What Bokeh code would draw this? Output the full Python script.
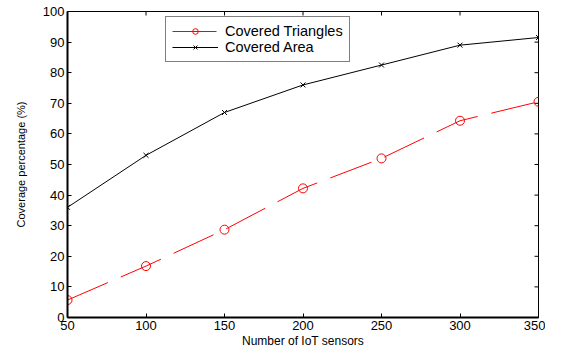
from bokeh.plotting import figure
from bokeh.models import Range1d, Legend, LegendItem, FixedTicker
from bokeh.embed import file_html
from bokeh.resources import INLINE

sensors = [50, 100, 150, 200, 250, 300, 350]
covered_triangles = [5.7, 16.8, 28.7, 42.2, 52.0, 64.3, 70.5]
covered_area = [36.0, 53.0, 67.0, 76.0, 82.5, 89.0, 91.5]
x_ticks = [50, 100, 150, 200, 250, 300, 350]
y_ticks = [0, 10, 20, 30, 40, 50, 60, 70, 80, 90, 100]

FONT = "Liberation Sans"
X_MIN, X_MAX = 50, 350
Y_MIN, Y_MAX = 0, 100

p = figure(width=545, height=350, output_backend="svg", toolbar_location=None,
           x_range=Range1d(X_MIN, X_MAX), y_range=Range1d(Y_MIN, Y_MAX),
           min_border_left=67, min_border_right=7, min_border_top=11, min_border_bottom=29,
           background_fill_color="white", border_fill_color="white",
           outline_line_color="black", outline_line_width=1)
p.grid.visible = False

def style_axis(ax):
    ax.axis_line_color = "black"
    ax.axis_line_width = 2
    ax.major_tick_in = 4
    ax.major_tick_out = 0
    ax.minor_tick_in = 0
    ax.minor_tick_out = 0
    ax.major_tick_line_color = "black"
    ax.major_label_text_font = FONT
    ax.major_label_text_font_size = "13px"
    ax.major_label_text_color = "black"
    ax.major_label_standoff = 3
    ax.axis_label_text_font = FONT
    ax.axis_label_text_font_style = "normal"
    ax.axis_label_text_color = "black"

xa = p.xaxis[0]
ya = p.yaxis[0]
xa.ticker = FixedTicker(ticks=x_ticks)
ya.ticker = FixedTicker(ticks=y_ticks)
style_axis(xa)
style_axis(ya)
xa.axis_label = "Number of IoT sensors"
xa.axis_label_text_font_size = "12px"
xa.axis_label_standoff = 1
ya.axis_label = "Coverage percentage (%)"
ya.axis_label_text_font_size = "11px"
ya.axis_label_standoff = 13

# inward tick marks on the top and right frame edges (half of each dash is clipped)
p.scatter(x_ticks, [Y_MAX] * len(x_ticks), marker="dash", angle=1.5708, size=8,
          line_color="black", line_width=1)
p.scatter([X_MAX] * len(y_ticks), y_ticks, marker="dash", size=8,
          line_color="black", line_width=1)

r_tri_line = p.line(sensors, covered_triangles, line_color="#ff0000", line_width=1,
                    line_dash="44 14")
r_tri_mark = p.scatter(sensors, covered_triangles, marker="circle", size=9,
                       line_color="#ff0000", fill_color=None, line_width=1)
r_area_line = p.line(sensors, covered_area, line_color="black", line_width=1)
r_area_mark = p.scatter(sensors, covered_area, marker="x", size=7,
                        line_color="black", line_width=1)

legend = Legend(items=[
    LegendItem(label="Covered Triangles", renderers=[r_tri_line, r_tri_mark]),
    LegendItem(label="Covered Area", renderers=[r_area_line, r_area_mark]),
], location=(98, 255))
legend.border_line_color = "black"
legend.border_line_width = 1
legend.background_fill_color = "white"
legend.background_fill_alpha = 1
legend.label_text_font = FONT
legend.label_text_font_size = "14.5px"
legend.label_text_color = "black"
legend.glyph_width = 46
legend.glyph_height = 14
legend.label_height = 14
legend.spacing = 0
legend.padding = 6
legend.margin = 0
legend.label_standoff = 7
p.add_layout(legend, "center")

html = file_html(p, INLINE)
open("out.html", "w").write(html)
